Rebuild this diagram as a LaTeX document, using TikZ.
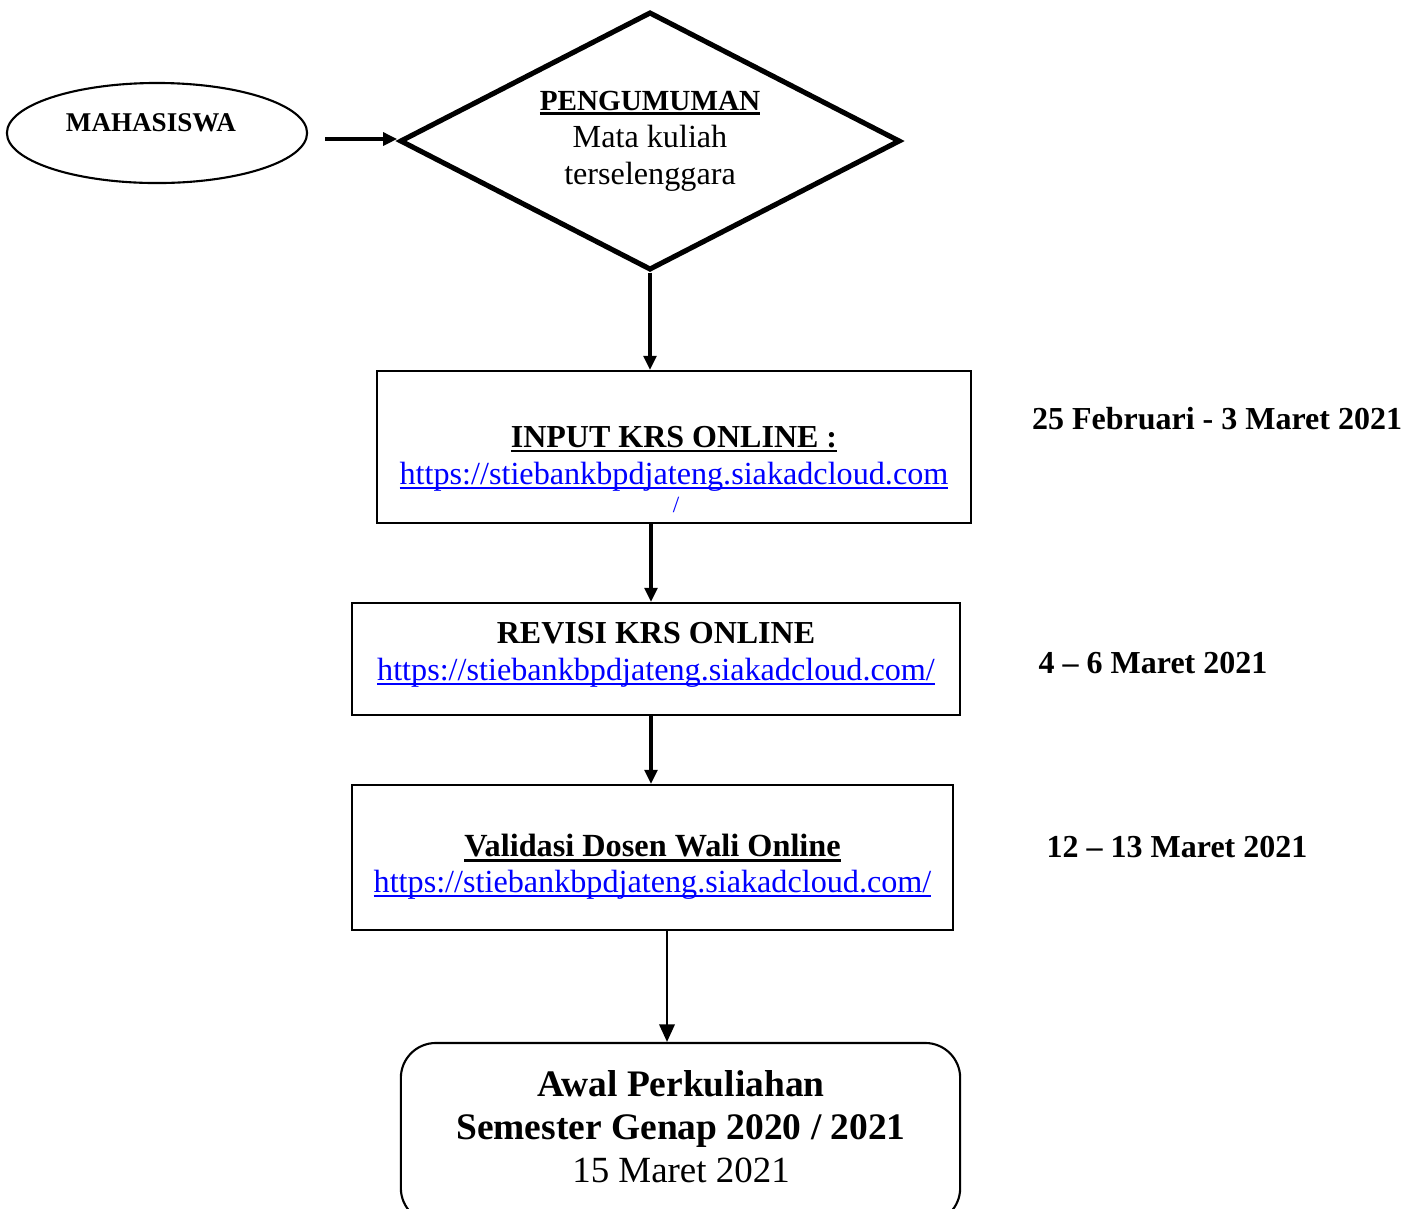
\documentclass[tikz,border=0pt]{standalone}
\usepackage{fontspec}
\setmainfont{Liberation Serif}
\usetikzlibrary{shapes.geometric,arrows.meta}
\tikzset{
  txt/.style={anchor=base,inner sep=0pt,font=\fontsize{9.15}{10.5}\selectfont},
  btxt/.style={anchor=base,inner sep=0pt,font=\fontsize{9.1}{10.5}\selectfont\bfseries},
  bigtxt/.style={anchor=base,inner sep=0pt,font=\fontsize{10.5}{12}\selectfont},
  boxshape/.style={draw,line width=0.6pt,inner sep=0pt},
  thickarrow/.style={line width=1.3pt,-{Triangle[length=4pt,width=3.6pt]}},
  thinarrow/.style={line width=0.6pt,-{Triangle[length=5pt,width=4.4pt]}},
}
% underline close to the baseline: #1 thickness, #2 text
\newcommand{\myul}[2]{\setbox0\hbox{#2}\leavevmode\rlap{\rule[-0.17em]{\wd0}{#1}}\box0}
\newcommand{\urltext}[1]{\textcolor{blue}{\myul{0.065em}{#1}}}
\begin{document}
\begin{tikzpicture}[x=0.01cm,y=-0.01cm]
\useasboundingbox (0,0) rectangle (1419,1208);
\clip (0,0) rectangle (1419,1208);
\fill[white] (0,0) rectangle (1419,1208);

% shapes
\node[draw,ellipse,line width=0.6pt,minimum width=3cm,minimum height=1cm,inner sep=0pt] (mhs) at (157,133) {};
\node[draw,diamond,line width=1.45pt,minimum width=5cm,minimum height=2.58cm,inner sep=0pt] (dia) at (650,141) {};
\node[boxshape,minimum width=5.94cm,minimum height=1.52cm] (b1) at (674,447) {};
\node[boxshape,minimum width=6.08cm,minimum height=1.12cm] (b2) at (656,659) {};
\node[boxshape,minimum width=6.01cm,minimum height=1.45cm] (b3) at (652.5,857.5) {};
\node[boxshape,rounded corners=0.35cm,minimum width=5.59cm,minimum height=1.8cm] (b4) at (680.5,1133) {};

% texts
\node[anchor=base,inner sep=0pt,font=\fontsize{7.7}{9}\selectfont\bfseries] (tmhs) at (151,131) {MAHASISWA};
\node[anchor=base,inner sep=0pt,font=\fontsize{8.3}{10}\selectfont\bfseries] (tpeng) at (650,110) {\myul{0.09em}{PENGUMUMAN}};
\node[txt] (tmata) at (650,147) {Mata kuliah};
\node[txt] (tters) at (650,184) {terselenggara};

\node[btxt] (tinput) at (674,447) {\myul{0.09em}{INPUT KRS ONLINE :}};
\node[txt] (turl1) at (674,484) {\urltext{https://stiebankbpdjateng.siakadcloud.com}};
\node[anchor=base,inner sep=0pt,font=\fontsize{6.6}{7}\selectfont] (tslash) at (676,512) {\textcolor{blue}{/}};

\node[btxt] (trev) at (656,643) {REVISI KRS ONLINE};
\node[txt] (turl2) at (656,680) {\urltext{https://stiebankbpdjateng.siakadcloud.com/}};

\node[btxt,font=\fontsize{9.18}{10.5}\selectfont\bfseries] (tval) at (652.5,856) {\myul{0.09em}{Validasi Dosen Wali Online}};
\node[txt] (turl3) at (652.5,892) {\urltext{https://stiebankbpdjateng.siakadcloud.com/}};

\node[bigtxt,font=\fontsize{10.65}{12}\selectfont\bfseries] (tawal) at (681,1096) {Awal Perkuliahan};
\node[bigtxt,font=\fontsize{10.65}{12}\selectfont\bfseries] (tsem) at (681,1139) {Semester Genap 2020 / 2021};
\node[bigtxt] (t15) at (681,1182) {15 Maret 2021};

\node[btxt] (d1) at (1217,429) {25 Februari - 3 Maret 2021};
\node[btxt] (d2) at (1153,673) {4 – 6 Maret 2021};
\node[btxt] (d3) at (1177,857) {12 – 13 Maret 2021};

% connectors
\coordinate (mstart) at (325,139);
\draw[thickarrow] (mstart) -- (mstart -| dia.west);
\draw[thickarrow] (dia.south) -- (dia.south |- b1.north);
\draw[thickarrow] (651,523) coordinate (c1) -- (c1 |- b2.north);
\draw[thickarrow] (651,715) coordinate (c2) -- (c2 |- b3.north);
\draw[thinarrow] (667,930) coordinate (c3) -- (c3 |- b4.north);
\end{tikzpicture}
\end{document}
